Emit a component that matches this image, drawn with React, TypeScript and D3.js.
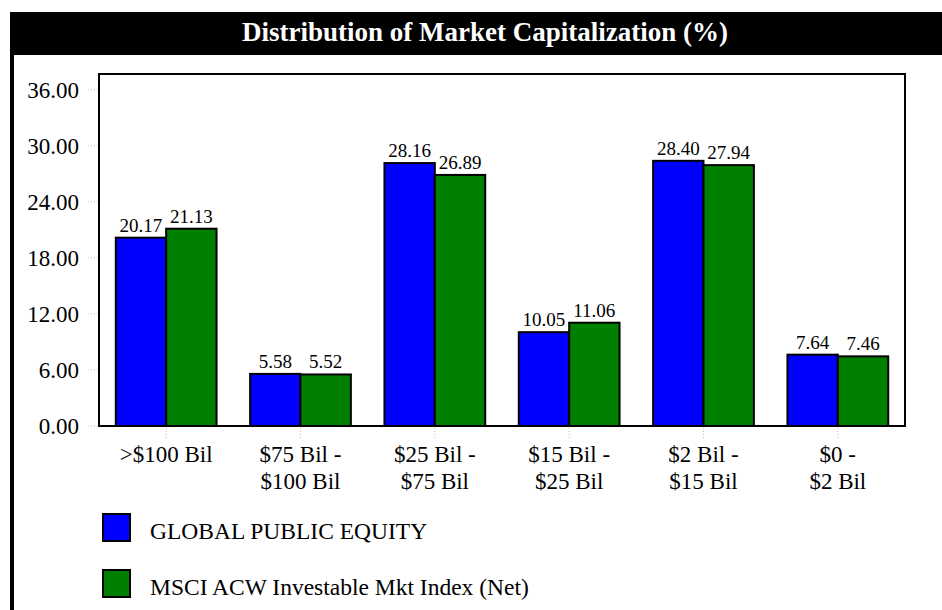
import * as d3 from 'd3';

const categories = [['>$100 Bil'], ['$75 Bil -', '$100 Bil'], ['$25 Bil -', '$75 Bil'], ['$15 Bil -', '$25 Bil'], ['$2 Bil -', '$15 Bil'], ['$0 -', '$2 Bil']];
const globalEquity = [20.17, 5.58, 28.16, 10.05, 28.4, 7.64];
const msciIndex = [21.13, 5.52, 26.89, 11.06, 27.94, 7.46];
const seriesNames = ['GLOBAL PUBLIC EQUITY', 'MSCI ACW Investable Mkt Index (Net)'];
const seriesColors = ['#0000ff', '#008000'];
const yTicks = [0, 6, 12, 18, 24, 30, 36];

const W = 942;
const H = 610;
const FONT = '"Liberation Serif", "Times New Roman", serif';

export default function App() {
  const left = 99;
  const right = 905;
  const top = 74;
  const bottom = 426;

  const x = d3.scaleBand<number>()
    .domain(d3.range(categories.length))
    .range([left, right])
    .paddingInner(0.25)
    .paddingOuter(0.125);

  const inner = d3.scaleBand<number>()
    .domain([0, 1])
    .range([0, x.bandwidth()]);

  const y = d3.scaleLinear().domain([0, 37.7]).range([bottom, top]);

  const series = [globalEquity, msciIndex];

  return (
    <svg width={W} height={H} style={{ position: 'absolute', left: 0, top: 0, fontFamily: FONT }}>
      <rect x={0} y={0} width={W} height={H} fill="#fff" />

      {/* title bar and left border */}
      <rect x={10} y={12} width={W - 10} height={43} fill="#000" />
      <rect x={10} y={12} width={4} height={H - 12} fill="#000" />
      <text x={485} y={41} textAnchor="middle" fill="#fff" fontWeight="bold" fontSize={27}>
        Distribution of Market Capitalization (%)
      </text>

      {/* y axis */}
      {yTicks.map(t => (
        <g key={t}>
          <line x1={88} x2={left - 1} y1={y(t)} y2={y(t)} stroke="#bbb" strokeDasharray="1,2" />
          <text x={79} y={y(t) + 8} textAnchor="end" fontSize={23}>{t.toFixed(2)}</text>
        </g>
      ))}

      {/* x ticks and labels */}
      {categories.map((lines, i) => {
        const cx = x(i)! + x.bandwidth() / 2;
        return (
          <g key={i}>
            <line x1={cx} x2={cx} y1={bottom + 2} y2={bottom + 12} stroke="#bbb" strokeDasharray="1,2" />
            {lines.map((l, j) => (
              <text key={j} x={cx} y={462 + j * 27} textAnchor="middle" fontSize={23}>{l}</text>
            ))}
          </g>
        );
      })}

      {/* bars */}
      {series.map((vals, s) => (
        <g key={s}>
          {vals.map((v, i) => {
            const bx = x(i)! + inner(s)!;
            return (
              <g key={i}>
                <rect x={bx} y={y(v)} width={inner.bandwidth()} height={y(0) - y(v)}
                  fill={seriesColors[s]} stroke="#000" strokeWidth={2} />
                <text x={bx + inner.bandwidth() / 2} y={y(v) - 6} textAnchor="middle" fontSize={19}>
                  {v.toFixed(2)}
                </text>
              </g>
            );
          })}
        </g>
      ))}

      {/* plot frame */}
      <rect x={left} y={top} width={right - left} height={bottom - top} fill="none" stroke="#000" strokeWidth={2} />

      {/* legend */}
      {seriesNames.map((name, s) => (
        <g key={s} transform={`translate(103, ${514 + s * 56})`}>
          <rect x={0} y={0} width={27} height={27} fill={seriesColors[s]} stroke="#000" strokeWidth={2} />
          <text x={47} y={25} fontSize={23.5}>{name}</text>
        </g>
      ))}
    </svg>
  );
}
